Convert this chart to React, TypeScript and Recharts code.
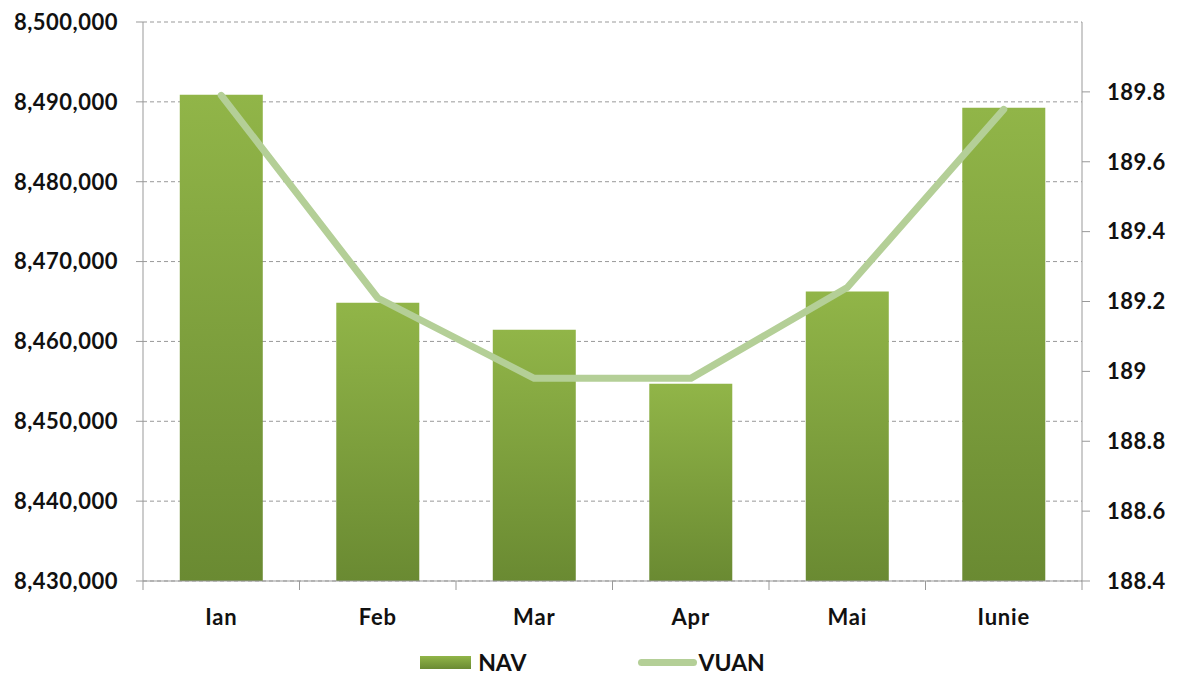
import { ComposedChart, Bar, Line, XAxis, YAxis, CartesianGrid, Legend } from "recharts";

const months = ["Ian", "Feb", "Mar", "Apr", "Mai", "Iunie"];
const navValues = [8490900, 8464850, 8461450, 8454700, 8466250, 8489250];
const vuanValues = [189.79, 189.21, 188.98, 188.98, 189.24, 189.75];
const leftTicks = [8430000, 8440000, 8450000, 8460000, 8470000, 8480000, 8490000, 8500000];
const rightTicks = [188.4, 188.6, 188.8, 189, 189.2, 189.4, 189.6, 189.8];

const data = months.map((m, i) => ({ month: m, NAV: navValues[i], VUAN: vuanValues[i] }));

const FONT = "Lato, 'Open Sans', sans-serif";

const MonthTick = (props: any) => {
  const { x, y, payload, index, width } = props;
  const band = (width || 939) / months.length;
  return (
    <g>
      <line x1={x - band / 2} y1={y - 8} x2={x - band / 2} y2={y + 1} stroke="#999" />
      {index === months.length - 1 && (
        <line x1={x + band / 2} y1={y - 8} x2={x + band / 2} y2={y + 1} stroke="#999" />
      )}
      <text
        x={x}
        y={y + 36}
        textAnchor="middle"
        fontFamily={FONT}
        fontWeight={700}
        fontSize={22}
        letterSpacing={0.8}
        fill="#111"
      >
        {payload.value}
      </text>
    </g>
  );
};

const LegendBox = () => (
  <div style={{ height: 30, display: "flex", justifyContent: "center", alignItems: "center", fontFamily: FONT, fontWeight: 700, fontSize: 23, color: "#111" }}>
    <span style={{ width: 51, height: 13, background: "linear-gradient(#91b548, #6a8a32)", marginRight: 7 }} />
    <span style={{ marginRight: 111 }}>NAV</span>
    <span style={{ width: 59, height: 7, borderRadius: 4, background: "#b4cf97", marginRight: 2 }} />
    <span>VUAN</span>
  </div>
);

const tickStyle = { fontFamily: FONT, fontWeight: 700, fontSize: 22, fill: "#111", letterSpacing: 0.5 };

export default function App() {
  return (
    <div style={{ position: "absolute", left: 0, top: 0, background: "#fff" }}>
      <ComposedChart
        width={1181}
        height={677}
        data={data}
        margin={{ top: 22, right: 9, bottom: 0, left: 13 }}
        barCategoryGap="23.5%"
      >
        <defs>
          <linearGradient id="navGrad" x1="0" y1="0" x2="0" y2="1">
            <stop offset="0%" stopColor="#91b548" />
            <stop offset="100%" stopColor="#6a8a32" />
          </linearGradient>
        </defs>
        <CartesianGrid yAxisId="left" vertical={false} stroke="#999" strokeDasharray="4 3" />
        <XAxis
          dataKey="month"
          height={66}
          axisLine={{ stroke: "#999" }}
          tickLine={false}
          tick={<MonthTick />}
          interval={0}
        />
        <YAxis
          yAxisId="left"
          width={130}
          domain={[8430000, 8500000]}
          ticks={leftTicks}
          allowDataOverflow
          axisLine={{ stroke: "#999" }}
          tickLine={{ stroke: "#999" }}
          tickSize={7}
          tickMargin={18}
          tickFormatter={(v: number) => v.toLocaleString("en-US")}
          tick={tickStyle}
        />
        <YAxis
          yAxisId="right"
          orientation="right"
          width={90}
          domain={[188.4, 190]}
          ticks={rightTicks}
          allowDataOverflow
          axisLine={{ stroke: "#999" }}
          tickLine={{ stroke: "#999" }}
          tickSize={8}
          tickMargin={17}
          tickFormatter={(v: number) => String(parseFloat(v.toFixed(1)))}
          tick={{ ...tickStyle, textAnchor: "start" }}
        />
        <Bar yAxisId="left" dataKey="NAV" fill="url(#navGrad)" isAnimationActive={false} />
        <Line
          yAxisId="right"
          type="linear"
          dataKey="VUAN"
          stroke="#b4cf97"
          strokeWidth={7}
          strokeLinecap="round"
          strokeLinejoin="round"
          dot={false}
          activeDot={false}
          isAnimationActive={false}
        />
        <Legend verticalAlign="bottom" content={<LegendBox />} />
      </ComposedChart>
    </div>
  );
}
